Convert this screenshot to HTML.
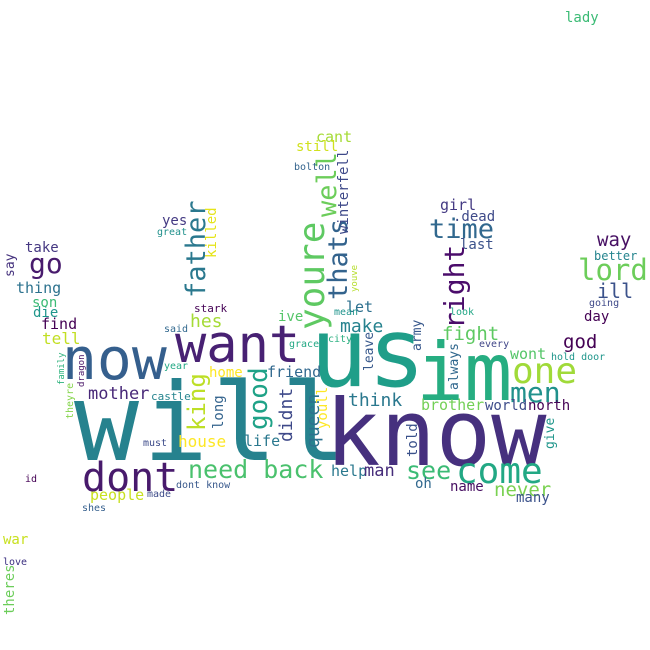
<!DOCTYPE html>
<html><head><meta charset="utf-8"><style>
html,body{margin:0;padding:0;background:#fff;}
svg{display:block;}
text{font-family:"DejaVu Sans Mono","Liberation Mono",monospace;}
</style></head><body>
<svg id="cloud" width="650" height="650" viewBox="0 0 650 650" xmlns="http://www.w3.org/2000/svg">
<rect width="650" height="650" fill="#fff"/>
</svg>
<script>
// word, x, baseline y, size, color, vertical(1), letter-spacing
const words = [
["will",74,460,108,"#26828e",0,4],["know",325,465,92,"#46307e",0,0],["us",310,386,96,"#1f9e89",0,0],["im",416,400,80,"#26ad81",0,0],
["want",175,362,52,"#482173",0,0],["now",62,379,58,"#355f8d",0,0],["dont",82,491,40,"#481a6c",0,0],["need back",188,478,25,"#4ac16d",0,0],
["come",456,483,36,"#22a884",0,0],["see",406,479,25,"#3bbb75",0,0],["one",512,383,36,"#a0da39",0,0],["men",510,402,28,"#21918c",0,0],
["youre",324,330,36,"#5ec962",1,0],["well",336,217,27,"#6ccd5a",1,0],["thats",347,300,27,"#33638d",1,0],["winterfell",348,234,14,"#3e4989",1,0],
["father",205,298,27,"#2a788e",1,0],["killed",216,258,14,"#e5e419",1,0],["right",464,329,28,"#4b0c6b",1,0],["time",429,238,27,"#31688e",0,0],
["girl",440,210,15,"#443a83",0,0],[".dead",453,221,14,"#3e4a89",0,0],["last",460,249,14,"#3b528b",0,0],["way",597,246,19,"#471063",0,0],
["better",594,260,12,"#25848e",0,0],["lord",578,280,29,"#6ccd5a",0,0],["ill",597,298,20,"#3b528b",0,0],["going",589,306,10,"#3e4989",0,0],
["day",584,321,14,"#440154",0,0],["god",563,348,19,"#440154",0,0],["wont",510,359,15,"#54c568",0,0],["hold door",551,360,10,"#1f968b",0,0],
["every",479,347,10,"#404688",0,0],["look",450,315,10,"#21a685",0,0],["fight",442,340,19,"#5ec962",0,0],["always",458,390,13,"#31688e",1,0],
["army",421,351,13,"#38588c",1,0],["leave",373,371,13,"#38598c",1,0],["youve",357,292,9,"#b5de2b",1,0],["let",346,312,15,"#2d708e",0,0],
["make",340,332,18,"#26828e",0,0],["mean",334,315,10,"#1f948c",0,0],["city",328,342,10,"#29af7f",0,0],["grace",289,347,10,"#22a884",0,0],
["ive",278,321,14,"#54c568",0,0],["think",348,406,18,"#2a788e",0,0],["brother",421,410,15,"#73d056",0,0],["world",485,410,14,"#3e4c8a",0,0],
["north",528,410,14,"#440154",0,0],["give",554,449,13,"#1f968b",1,0],["told",417,457,14,"#3b528b",1,0],["help",331,476,15,"#2a788e",0,0],
["man",364,476,17,"#472d7b",0,0],["oh",415,488,14,"#31688e",0,0],["name",450,491,14,"#470f62",0,0],["never",494,496,19,"#7ad151",0,0],
["many",516,502,14,"#3b528b",0,0],["queen",319,448,18,"#2c728e",1,0],["youll",327,429,14,"#fde725",1,0],["didnt",292,442,18,"#3e4989",1,0],
["good",267,430,26,"#1fa287",1,0],["life",244,446,15,"#2a788e",0,0],["friend",267,377,15,"#31688e",0,0],["home",209,377,14,"#fde725",0,0],
["king",205,431,24,"#bddf26",1,0],["long",223,429,14,"#33638d",1,0],["house",178,447,16,"#fde725",0,0],["mother",88,399,17,"#482878",0,0],
["castle",151,400,11,"#25848e",0,0],["must",143,446,10,"#3e4c8a",0,0],["hes",190,327,18,"#a5db36",0,0],["stark",194,312,11,"#440154",0,0],
["said",164,332,10,"#31688e",0,0],["year",164,369,10,"#22a884",0,0],["great",157,235,10,"#21918c",0,0],["yes",162,225,14,"#443a83",0,0],
["family",64,385,9,"#2db27d",1,0],["dragon",84,387,9,"#481467",1,0],["theyre",73,419,10,"#84d44b",1,0],["tell",42,344,16,"#c2df23",0,0],
["find",41,329,15,"#440154",0,0],["die",33,317,14,"#1f968b",0,0],["son",32,307,14,"#3bbb75",0,0],["thing",16,293,15,"#2c728e",0,0],
["say",14,277,13,"#46337e",1,0],["go",29,273,28,"#481b6d",0,0],["take",25,252,14,"#453882",0,0],["id",25,482,10,"#440154",0,0],
["dont know",176,488,10,"#38588c",0,0],["made",147,497,10,"#3e4c8a",0,0],["people",90,500,15,"#c8e020",0,0],["shes",82,511,10,"#355f8d",0,0],
["war",3,544,14,"#c8e020",0,0],["love",3,565,10,"#3b2f80",0,0],["theres",14,615,14,"#6ccd5a",1,0],["lady",565,22,14,"#3bbb75",0,0],
["cant",316,142,15,"#a5db36",0,0],["still",296,151,14,"#d0e11c",0,0],["bolton",294,170,10,"#33638d",0,0]
];
const svg = document.getElementById('cloud');
const NS = "http://www.w3.org/2000/svg";
words.forEach(w => {
  const t = document.createElementNS(NS, 'text');
  t.textContent = w[0];
  t.setAttribute('font-size', w[3]);
  t.setAttribute('fill', w[4]);
  if (w[6]) t.setAttribute('letter-spacing', w[6]);
  if (w[5]) {
    t.setAttribute('transform', 'translate(' + w[1] + ',' + w[2] + ') rotate(-90)');
  } else {
    t.setAttribute('x', w[1]);
    t.setAttribute('y', w[2]);
  }
  
  
  svg.appendChild(t);
});
</script>
</body></html>
